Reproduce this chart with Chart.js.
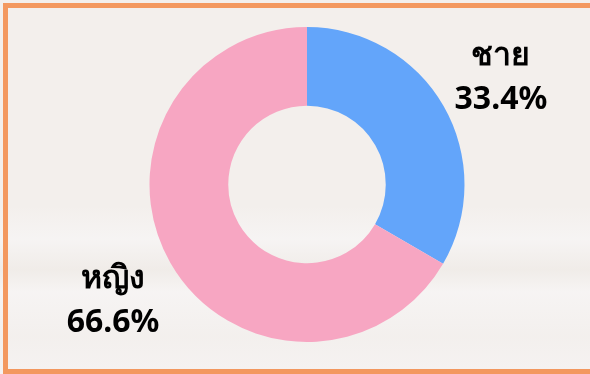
<!DOCTYPE html>
<html lang="th">
<head>
    <meta charset="UTF-8">
    <title>สัดส่วนเพศ</title>
    <script src="https://cdn.jsdelivr.net/npm/chart.js@4"></script>
    <style>
        html, body {
            margin: 0;
            padding: 0;
            overflow: hidden;
        }
        #wrap {
            position: relative;
            width: 590px;
            height: 374px;
            background-color: #f3efec;
            background-image:
                linear-gradient(180deg, rgba(255,255,255,0) 0%, rgba(255,255,255,0) 55%, rgba(247,245,245,0.8) 64%, rgba(238,234,230,0.6) 72%, rgba(247,245,245,0.8) 78%, rgba(243,240,238,0.6) 90%, rgba(246,243,243,0.8) 100%);
        }
        #frame {
            position: absolute;
            left: 3px;
            top: 3px;
            width: 600px;
            height: 371px;
            box-sizing: border-box;
            border: 5px solid #f3985f;
            pointer-events: none;
        }
        canvas {
            position: absolute;
            left: 0;
            top: 0;
        }
    </style>
</head>
<body>
    <div id="wrap">
        <canvas id="chart" width="590" height="374"></canvas>
        <div id="frame"></div>
    </div>
    <script>
        // ข้อมูลสัดส่วนเพศ
        const labels = ['ชาย', 'หญิง'];
        const values = [33.4, 66.6];
        const colors = ['#63a5fa', '#f7a6c2'];

        // วาดชื่อกลุ่มและเปอร์เซ็นต์ไว้นอกวง ตามมุมกึ่งกลางของแต่ละชิ้น
        const outsideLabels = {
            id: 'outsideLabels',
            afterDatasetsDraw(chart) {
                const ctx = chart.ctx;
                const meta = chart.getDatasetMeta(0);
                ctx.save();
                ctx.fillStyle = '#000';
                ctx.textAlign = 'center';
                ctx.textBaseline = 'middle';
                ctx.font = 'bold 32px "Noto Sans", sans-serif';
                meta.data.forEach((arc, i) => {
                    const p = arc.getProps(['x', 'y', 'startAngle', 'endAngle', 'outerRadius'], true);
                    const mid = (p.startAngle + p.endAngle) / 2;
                    const r = p.outerRadius * 1.42;
                    const cx = p.x + Math.cos(mid) * r;
                    const cy = p.y + Math.sin(mid) * r + 5;
                    ctx.fillText(labels[i], cx, cy - 22);
                    ctx.fillText(values[i].toFixed(1) + '%', cx, cy + 22);
                });
                ctx.restore();
            }
        };

        new Chart(document.getElementById('chart'), {
            type: 'doughnut',
            data: {
                labels: labels,
                datasets: [{
                    data: values,
                    backgroundColor: colors,
                    borderWidth: 0
                }]
            },
            options: {
                responsive: false,
                animation: false,
                cutout: '50%',
                layout: {
                    padding: { top: 27, bottom: 32, left: 24, right: 0 }
                },
                plugins: {
                    legend: { display: false },
                    tooltip: { enabled: false }
                }
            },
            plugins: [outsideLabels]
        });
    </script>
</body>
</html>
